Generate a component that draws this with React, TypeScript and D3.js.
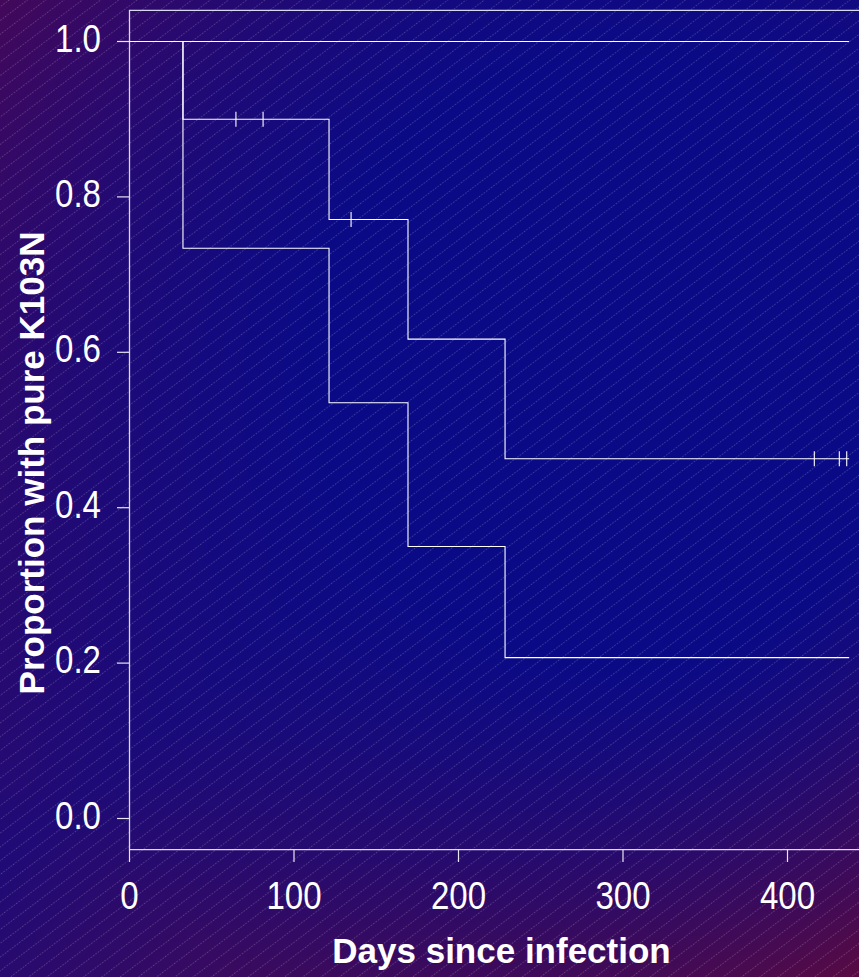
import React from "react";
import * as d3 from "d3";

// Kaplan–Meier estimate of time with pure K103N, with confidence band
const stepTimes = [0, 32.5, 121.3, 169.3, 228.3];
const estimate = [1.0, 0.9, 0.771, 0.617, 0.463];
const lowerCI = [1.0, 0.734, 0.535, 0.35, 0.207];
const upperCI = [1.0, 1.0, 1.0, 1.0, 1.0];
const endTime = 437.5;

// censored observations (time, estimate at that time)
const censorTimes = [64.7, 81.2, 134.7, 416.3, 431.5, 436];
const censorValues = [0.9, 0.9, 0.771, 0.463, 0.463, 0.463];

const xTicks = [0, 100, 200, 300, 400];
const yTicks = [0, 0.2, 0.4, 0.6, 0.8, 1.0];

const W = 859;
const H = 977;

export default function App() {
  const x = d3.scaleLinear().domain([0, 400]).range([129.5, 787.5]);
  const y = d3.scaleLinear().domain([0, 1]).range([818.5, 41.5]);

  const boxTop = y(1.04);
  const boxBottom = y(-0.04);
  const boxLeft = x(0);

  const stepLine = (vals: number[]) => {
    const pts: [number, number][] = stepTimes.map((t, i) => [t, vals[i]]);
    pts.push([endTime, vals[vals.length - 1]]);
    return d3
      .line<[number, number]>()
      .x((d) => x(d[0]))
      .y((d) => y(d[1]))
      .curve(d3.curveStepAfter)(pts) as string;
  };

  const font = "'Liberation Sans', Arial, Helvetica, sans-serif";
  const tickFont = 38;
  const narrow = 0.87;

  return (
    <svg
      width={W}
      height={H}
      style={{ position: "absolute", left: 0, top: 0, display: "block" }}
    >
      <defs>
        <linearGradient id="bgBase" x1="0" y1="0" x2={W} y2={H} gradientUnits="userSpaceOnUse">
          <stop offset="0" stopColor="#44085a" />
          <stop offset="0.5" stopColor="#200a76" />
          <stop offset="1" stopColor="#660a38" />
        </linearGradient>
        <radialGradient id="bgGlow" cx="620" cy="360" r="720" gradientUnits="userSpaceOnUse">
          <stop offset="0" stopColor="#0a0a88" stopOpacity="1" />
          <stop offset="0.42" stopColor="#0a0a86" stopOpacity="1" />
          <stop offset="1" stopColor="#0a0a84" stopOpacity="0" />
        </radialGradient>
        <pattern
          id="hatch"
          patternUnits="userSpaceOnUse"
          width="24"
          height="11"
          patternTransform="rotate(-37)"
        >
          <line
            x1="0"
            y1="5.5"
            x2="24"
            y2="5.5"
            stroke="#ffffff"
            strokeOpacity="0.3"
            strokeWidth="0.7"
            strokeDasharray="1.5 1.5"
          />
        </pattern>
      </defs>

      <rect x={0} y={0} width={W} height={H} fill="url(#bgBase)" />
      <rect x={0} y={0} width={W} height={H} fill="url(#bgGlow)" />
      <rect x={0} y={0} width={W} height={H} fill="url(#hatch)" />

      {/* plot box (right side lies beyond the page) */}
      <path
        d={`M${W + 20},${boxTop}H${boxLeft}V${boxBottom}H${W + 20}`}
        fill="none"
        stroke="#d8d8f0"
        strokeWidth={1.3}
      />

      {/* y axis ticks and labels */}
      {yTicks.map((t) => (
        <g key={`y${t}`}>
          <line x1={117} x2={boxLeft} y1={y(t)} y2={y(t)} stroke="#e6e6f0" strokeWidth={1.2} />
          <text
            transform={`translate(101,${y(t) + 10}) scale(${narrow},1)`}
            textAnchor="end"
            fill="#ffffff"
            fontFamily={font}
            fontSize={tickFont}
          >
            {t.toFixed(1)}
          </text>
        </g>
      ))}

      {/* x axis ticks and labels */}
      {xTicks.map((t) => (
        <g key={`x${t}`}>
          <line x1={x(t)} x2={x(t)} y1={boxBottom} y2={862} stroke="#e6e6f0" strokeWidth={1.2} />
          <text
            transform={`translate(${x(t)},909) scale(${narrow},1)`}
            textAnchor="middle"
            fill="#ffffff"
            fontFamily={font}
            fontSize={tickFont}
          >
            {t}
          </text>
        </g>
      ))}

      {/* survival curve and confidence limits */}
      <path d={stepLine(upperCI)} fill="none" stroke="#ffffff" strokeWidth={1.1} />
      <path d={stepLine(lowerCI)} fill="none" stroke="#ffffff" strokeWidth={1.1} />
      <path d={stepLine(estimate)} fill="none" stroke="#ffffff" strokeWidth={1.1} />

      {/* censoring marks */}
      {censorTimes.map((t, i) => (
        <line
          key={`c${i}`}
          x1={x(t)}
          x2={x(t)}
          y1={y(censorValues[i]) - 7.5}
          y2={y(censorValues[i]) + 7.5}
          stroke="#ffffff"
          strokeWidth={1.1}
        />
      ))}

      {/* axis titles */}
      <text
        x={501.5}
        y={963}
        textAnchor="middle"
        fill="#ffffff"
        fontFamily={font}
        fontWeight="bold"
        fontSize={35}
      >
        Days since infection
      </text>
      <text
        transform={`translate(44,463) rotate(-90)`}
        textAnchor="middle"
        fill="#ffffff"
        fontFamily={font}
        fontWeight="bold"
        fontSize={35}
      >
        Proportion with pure K103N
      </text>
    </svg>
  );
}
